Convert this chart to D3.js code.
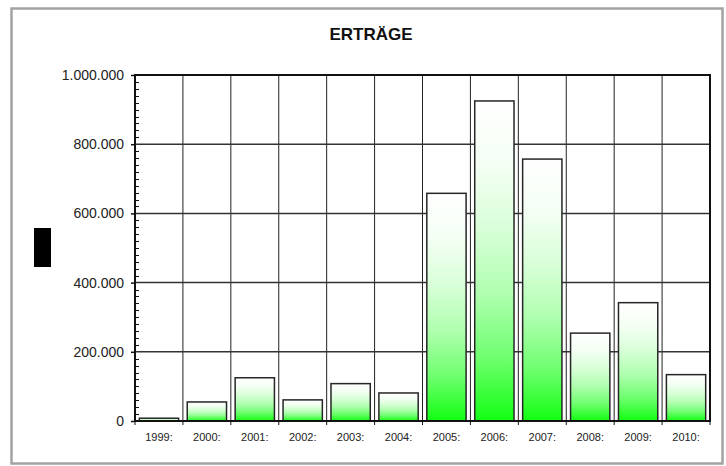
<!DOCTYPE html>
<html><head><meta charset="utf-8">
<script src="https://cdn.jsdelivr.net/npm/d3@7"></script>
<style>body{margin:0;background:#fff}svg{display:block}</style>
</head><body><svg id="c" width="726" height="466"></svg>
<script>
const title = "ERTRÄGE";
const categories = ["1999:","2000:","2001:","2002:","2003:","2004:","2005:","2006:","2007:","2008:","2009:","2010:"];
const values = [8000,55000,125000,61000,108000,81000,658000,925000,757000,254000,342000,134000];
const yTicks = [0,200000,400000,600000,800000,1000000];

const svg = d3.select("#c");
const W = 726, H = 466;
const m = {left:135, right:710, top:75, bottom:421};
const font = "'Liberation Sans', Arial, sans-serif";
const de = d3.formatLocale({decimal:",", thousands:".", grouping:[3], currency:["","€"]});
const fmt = de.format(",d");

// frame
svg.append("rect").attr("x",11.5).attr("y",8.5).attr("width",711).attr("height",455)
  .attr("fill","#fff").attr("stroke","#a3a3a3").attr("stroke-width",2.5);

// title
svg.append("text").attr("x",371).attr("y",40).attr("text-anchor","middle")
  .attr("font-family",font).attr("font-weight","bold").attr("font-size",17).attr("fill","#111").text(title);

// black y-axis title block
svg.append("rect").attr("x",34).attr("y",228).attr("width",17).attr("height",39).attr("fill","#000");

const x = d3.scaleBand().domain(categories).range([m.left,m.right]).paddingInner(0.18).paddingOuter(0.09);
const y = d3.scaleLinear().domain([0,1000000]).range([m.bottom,m.top]);
const step = x.step();
const bound = i => m.left + i*step;

// vertical gridlines
const bounds = d3.range(1, categories.length);
svg.append("g").selectAll("line").data(bounds).join("line")
  .attr("x1",d=>bound(d)).attr("x2",d=>bound(d)).attr("y1",m.top).attr("y2",m.bottom)
  .attr("stroke","#222").attr("stroke-width",1);
// horizontal gridlines
svg.append("g").selectAll("line").data(yTicks.slice(1,-1)).join("line")
  .attr("x1",m.left).attr("x2",m.right).attr("y1",d=>y(d)).attr("y2",d=>y(d))
  .attr("stroke","#333").attr("stroke-width",1.5);

// gradient
const defs = svg.append("defs");
const g = defs.append("linearGradient").attr("id","grad").attr("x1",0).attr("y1",0).attr("x2",0).attr("y2",1);
[[0,"#ffffff"],[0.2,"#f4fff4"],[0.4,"#d8ffd8"],[0.6,"#b0ffb0"],[0.8,"#70ff70"],[1,"#12ff12"]]
  .forEach(([o,c])=>g.append("stop").attr("offset",o).attr("stop-color",c));

// bars
svg.append("g").selectAll("rect").data(values).join("rect")
  .attr("x",(d,i)=>x(categories[i])).attr("width",x.bandwidth())
  .attr("y",d=>y(d)).attr("height",d=>y(0)-y(d))
  .attr("fill","url(#grad)").attr("stroke","#262626").attr("stroke-width",1.5);

// plot frame
svg.append("rect").attr("x",m.left).attr("y",m.top).attr("width",m.right-m.left).attr("height",m.bottom-m.top)
  .attr("fill","none").attr("stroke","#111").attr("stroke-width",2);

// y axis
const yAxis = d3.axisLeft(y).tickValues(yTicks).tickFormat(fmt).tickSize(4).tickPadding(7);
const ya = svg.append("g").attr("transform",`translate(${m.left},0)`).call(yAxis);
ya.select(".domain").remove();
ya.selectAll("line").attr("stroke","#111").attr("stroke-width",1.5);
ya.selectAll("text").attr("font-family",font).attr("font-size",14).attr("fill","#222");
// minor ticks
const minor = d3.range(0,1000001,20000).filter(v=>v%200000!==0);
svg.append("g").selectAll("line").data(minor).join("line")
  .attr("x1",m.left).attr("x2",m.left+4).attr("y1",d=>Math.round(y(d))+0.5).attr("y2",d=>Math.round(y(d))+0.5)
  .attr("stroke","#111").attr("stroke-width",1);

// x ticks
svg.append("g").selectAll("line").data(d3.range(0,categories.length+1)).join("line")
  .attr("x1",d=>bound(d)).attr("x2",d=>bound(d)).attr("y1",m.bottom).attr("y2",m.bottom+4)
  .attr("stroke","#111").attr("stroke-width",1);
// x labels
svg.append("g").selectAll("text").data(categories).join("text")
  .attr("x",d=>x(d)+x.bandwidth()/2).attr("y",441).attr("text-anchor","middle")
  .attr("font-family",font).attr("font-size",11).attr("fill","#222").text(d=>d);
</script></body></html>
